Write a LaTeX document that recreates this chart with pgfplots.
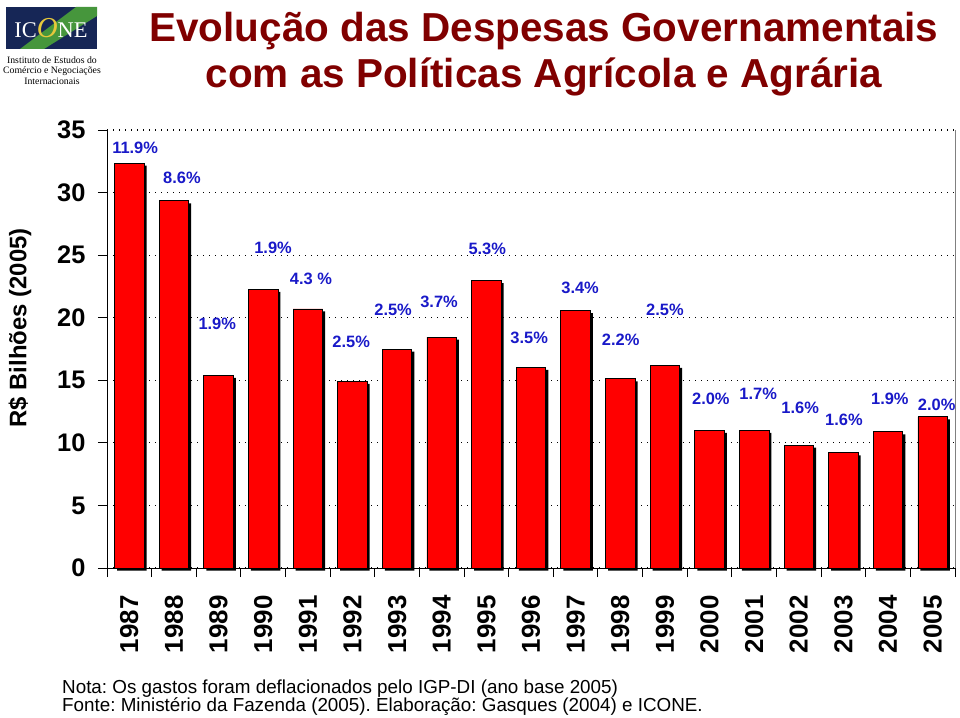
\documentclass[border=0pt]{standalone}
\usepackage{fontspec}
\setmainfont{Liberation Sans}
\newfontfamily\logofont{Liberation Serif}
\usepackage{pgfplots}
\usepackage{pgfplotstable}
\pgfplotsset{compat=1.18}
\definecolor{titlered}{RGB}{128,0,0}
\definecolor{pctblue}{RGB}{25,25,200}
\definecolor{navy}{RGB}{22,38,86}
\definecolor{logogreen}{RGB}{70,150,60}
\definecolor{logoyellow}{RGB}{230,200,60}
\frenchspacing

\pgfplotstableread{
x y
0 32.35
1 29.34
2 15.39
3 22.27
4 20.70
5 14.92
6 17.50
7 18.45
8 22.96
9 16.03
10 20.56
11 15.12
12 16.20
13 10.99
14 11.00
15 9.82
16 9.20
17 10.88
18 12.08
}\gastos

\begin{document}
\begin{tikzpicture}
\begin{scope}[x=1bp,y=-1bp]
\useasboundingbox (0,0) rectangle (960,718);
% logo
\fill[navy] (6,7) rectangle (97,49);
\fill[logogreen] (20,49) -- (44,49) -- (97,16) -- (97,7) -- (76,7) -- cycle;
\node[font=\logofont\fontsize{22.5}{22.5}\selectfont, text=white, inner sep=0] at (51,28) {IC\textcolor{logoyellow}{\fontsize{29}{29}\selectfont\itshape O}NE};
\node[font=\logofont\fontsize{9.8}{10.6}\selectfont, align=center, inner sep=0] at (52,70.5) {Instituto de Estudos do\\Comércio e Negociações\\Internacionais};
% title
\node[font=\bfseries\fontsize{40.6}{45}\selectfont, text=titlered, anchor=base, inner sep=0] at (544,42) {Evolução das Despesas Governamentais};
\node[font=\bfseries\fontsize{40.6}{45}\selectfont, text=titlered, anchor=base, inner sep=0] at (544,88) {com as Políticas Agrícola e Agrária};
% y label
\node[font=\bfseries\fontsize{24}{24}\selectfont, rotate=90, inner sep=0] at (20,328) {R\$ Bilhões (2005)};
% footnote
\node[anchor=base west, font=\fontsize{18.9}{18.9}\selectfont, inner sep=0] at (62,693) {Nota: Os gastos foram deflacionados pelo IGP-DI (ano base 2005)};
\node[anchor=base west, font=\fontsize{18.9}{18.9}\selectfont, inner sep=0] at (62,711) {Fonte: Ministério da Fazenda (2005). Elaboração: Gasques (2004) e ICONE.};
\end{scope}

\begin{axis}[
  at={(107bp,-568bp)}, anchor=south west,
  scale only axis, width=848bp, height=438bp,
  xmin=-0.5, xmax=18.5, ymin=0, ymax=35,
  axis x line*=bottom, axis y line*=left,
  axis line style={black, line width=1bp},
  clip mode=individual,
  ytick={0,5,...,35},
  xtick={0,...,18},
  xticklabels={1987,1988,1989,1990,1991,1992,1993,1994,1995,1996,1997,1998,1999,2000,2001,2002,2003,2004,2005},
  minor xtick={-0.5,0.5,...,18.5},
  every major x tick/.style={draw=none},
  tick align=outside,
  major tick length=9bp, minor tick length=9bp,
  tick style={black, line width=1bp},
  ymajorgrids,
  major grid style={black, line width=1.1bp, dash pattern=on 1.4bp off 4.6bp},
  /pgf/number format/assume math mode=true,
  yticklabel style={font=\bfseries\fontsize{25.5}{25.5}\selectfont, xshift=-9bp},
  xticklabel style={font=\bfseries\fontsize{26}{26}\selectfont, yshift=-15bp, rotate=90, anchor=east},
]
\addplot[ybar, bar width=29.5bp, bar shift=2.5bp, yshift=-2.5bp, fill=black, draw=none] table[x=x,y=y] {\gastos};
\addplot[ybar, bar width=29.5bp, bar shift=0pt, fill=red, draw=black, line width=0.8bp] table[x=x,y=y] {\gastos};
\draw[gray, line width=1bp] (rel axis cs:1,0) -- (rel axis cs:1,1);
\tikzset{pct/.style={font=\bfseries\fontsize{16.5}{16.5}\selectfont, text=pctblue, inner sep=0}}
\node[pct] at (axis cs:0.13,33.6) {11.9\%};
\node[pct] at (axis cs:1.18,31.2) {8.6\%};
\node[pct] at (axis cs:1.97,19.5) {1.9\%};
\node[pct] at (axis cs:3.22,25.6) {1.9\%};
\node[pct] at (axis cs:4.07,23.1) {4.3 \%};
\node[pct] at (axis cs:4.97,18.05) {2.5\%};
\node[pct] at (axis cs:5.91,20.6) {2.5\%};
\node[pct] at (axis cs:6.94,21.3) {3.7\%};
\node[pct] at (axis cs:8.02,25.5) {5.3\%};
\node[pct] at (axis cs:8.96,18.4) {3.5\%};
\node[pct] at (axis cs:10.1,22.4) {3.4\%};
\node[pct] at (axis cs:11.01,18.2) {2.2\%};
\node[pct] at (axis cs:12.0,20.6) {2.5\%};
\node[pct] at (axis cs:13.03,13.5) {2.0\%};
\node[pct] at (axis cs:14.09,13.95) {1.7\%};
\node[pct] at (axis cs:15.03,12.8) {1.6\%};
\node[pct] at (axis cs:16.01,11.8) {1.6\%};
\node[pct] at (axis cs:17.04,13.5) {1.9\%};
\node[pct] at (axis cs:18.09,13.0) {2.0\%};
\end{axis}
\end{tikzpicture}
\end{document}
